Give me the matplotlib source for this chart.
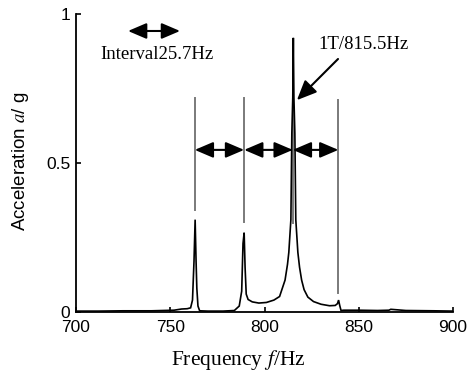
import matplotlib
matplotlib.use("Agg")
import matplotlib.pyplot as plt

# Spectrum samples: frequency (Hz) and acceleration amplitude (g)
freq = [700, 712, 725, 740, 752, 756, 759, 760.8, 761.8, 762.6, 763.2, 763.7,
        764.1, 764.7, 765.6, 770, 778, 784, 786.6, 787.9, 788.6, 789.2, 789.7,
        790.3, 791.3, 793.5, 797, 801, 805, 808, 810.9, 812.2, 812.9, 814.0,
        814.5, 815.0, 815.3, 815.6, 816.1, 816.6, 817.7, 818.6, 819.7, 821.0,
        823.0, 826.0, 830.0, 834.5, 837.5, 838.7, 839.3, 839.9, 840.6, 842,
        850, 860, 866, 867, 875, 890, 900]
accel = [0.003, 0.003, 0.004, 0.004, 0.006, 0.010, 0.011, 0.014, 0.04, 0.17,
         0.31, 0.17, 0.08, 0.02, 0.004, 0.003, 0.003, 0.005, 0.02, 0.07, 0.23,
         0.266, 0.15, 0.06, 0.042, 0.034, 0.030, 0.032, 0.040, 0.052, 0.107,
         0.16, 0.20, 0.31, 0.60, 0.72, 0.92, 0.72, 0.60, 0.31, 0.20, 0.15,
         0.107, 0.075, 0.050, 0.035, 0.026, 0.021, 0.022, 0.028, 0.040, 0.022,
         0.005, 0.006, 0.006, 0.005, 0.006, 0.009, 0.005, 0.004, 0.003]

# Harmonic marker lines: position (Hz), top and bottom (g)
marker_freq = [763.0, 789.2, 815.0, 839.2]
marker_top = [0.717, 0.717, 0.69, 0.71]
marker_bottom = [0.342, 0.302, 0.30, 0.064]
spacing_level = 0.544

interval_arrow = [727.6, 755.2]
interval_level = 0.943
interval_text = "Interval25.7Hz"
peak_text = "1T/815.5Hz"
peak_tip = (817.2, 0.711)
peak_tail = (839.0, 0.849)

x_ticks = [700, 750, 800, 850, 900]
y_ticks = [0, 0.5, 1]
y_tick_labels = ["0", "0.5", "1"]

serif = "Liberation Serif"
sans = "Liberation Sans"

fig = plt.figure(figsize=(4.73, 3.74), dpi=100)
ax = fig.add_axes([76 / 473, 62 / 374, 377 / 473, 298 / 374])

ax.plot(freq, accel, color="black", lw=1.2, solid_joinstyle="miter")

for f, t, b in zip(marker_freq, marker_top, marker_bottom):
    ax.plot([f, f], [b, t], color="#7a7a7a", lw=1.4, zorder=1)

arrow_style = dict(arrowstyle="<|-|>,head_length=0.75,head_width=0.32",
                   color="black", lw=1.5, shrinkA=0, shrinkB=0,
                   mutation_scale=15)
for f0, f1 in zip(marker_freq[:-1], marker_freq[1:]):
    ax.annotate("", xy=(f1, spacing_level), xytext=(f0, spacing_level),
                arrowprops=arrow_style)

ax.annotate("", xy=(interval_arrow[1], interval_level),
            xytext=(interval_arrow[0], interval_level),
            arrowprops=arrow_style)
ax.text(743.2, 0.865, interval_text, fontfamily=serif, fontsize=13.5,
        ha="center", va="center")

ax.annotate("", xy=peak_tip, xytext=peak_tail,
            arrowprops=dict(arrowstyle="-|>,head_length=0.8,head_width=0.35",
                            color="black", lw=1.5, shrinkA=0, shrinkB=0,
                            mutation_scale=15))
ax.text(852.3, 0.896, peak_text, fontfamily=serif, fontsize=13.5,
        ha="center", va="center")

ax.set_xlim(700, 900)
ax.set_ylim(0, 1)
ax.set_xticks(x_ticks)
ax.set_yticks(y_ticks)
ax.set_yticklabels(y_tick_labels)
for side in ("top", "right"):
    ax.spines[side].set_visible(False)
for side in ("left", "bottom"):
    ax.spines[side].set_linewidth(1.3)
ax.tick_params(direction="in", length=3.5, width=1.2, labelsize=12.5)
ax.tick_params(axis="x", pad=5.5)
ax.tick_params(axis="y", pad=4)
for lab in ax.get_xticklabels() + ax.get_yticklabels():
    lab.set_fontfamily(sans)

ax.text(0.43, -0.161, "Frequency $f$/Hz", transform=ax.transAxes,
        fontfamily=serif, fontsize=15.5, ha="center", va="center",
        math_fontfamily="stix")
ax.text(-0.1485, 0.505, "Acceleration $a$/ g", transform=ax.transAxes,
        fontfamily=sans, fontsize=13.5, ha="center", va="center",
        rotation=90, math_fontfamily="stix")

fig.savefig("out.png", dpi=100)
